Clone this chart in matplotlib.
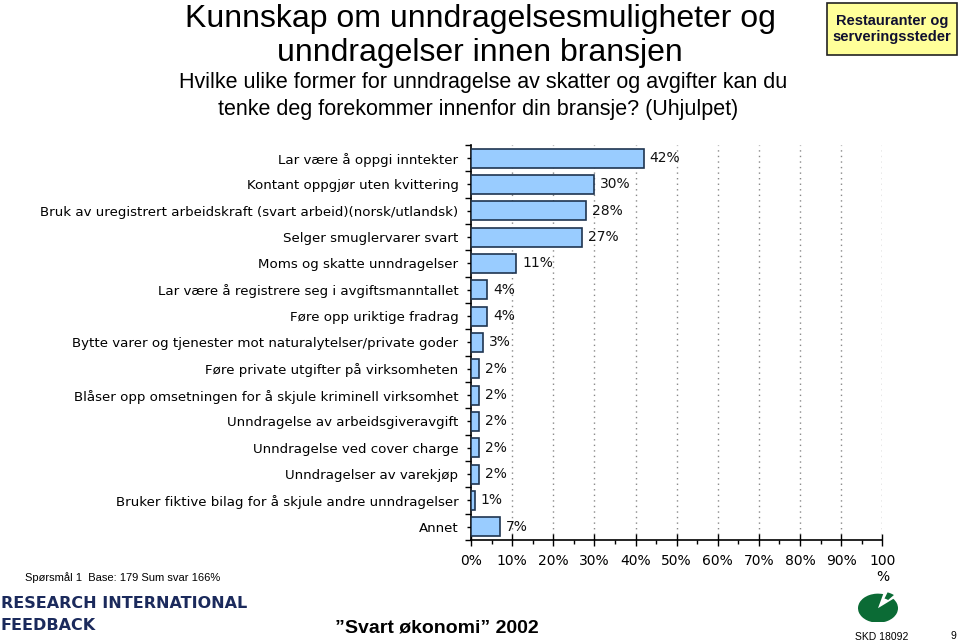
import numpy as np
import matplotlib.pyplot as plt
from matplotlib.patches import Wedge, Rectangle
from matplotlib.ticker import MultipleLocator, FixedLocator

# ========== data ==========
categories = [
    "Lar være å oppgi inntekter",
    "Kontant oppgjør uten kvittering",
    "Bruk av uregistrert arbeidskraft (svart arbeid)(norsk/utlandsk)",
    "Selger smuglervarer svart",
    "Moms og skatte unndragelser",
    "Lar være å registrere seg i avgiftsmanntallet",
    "Føre opp uriktige fradrag",
    "Bytte varer og tjenester mot naturalytelser/private goder",
    "Føre private utgifter på virksomheten",
    "Blåser opp omsetningen for å skjule kriminell virksomhet",
    "Unndragelse av arbeidsgiveravgift",
    "Unndragelse ved cover charge",
    "Unndragelser av varekjøp",
    "Bruker fiktive bilag for å skjule andre unndragelser",
    "Annet",
]
values = [42, 30, 28, 27, 11, 4, 4, 3, 2, 2, 2, 2, 2, 1, 7]
xticks = list(range(0, 101, 10))
xtick_labels = ["0%", "10%", "20%", "30%", "40%", "50%", "60%", "70%", "80%", "90%", "100\n%"]

fig = plt.figure(figsize=(9.6, 6.43), dpi=100)
ax = fig.add_axes([0.4906, 0.1602, 0.4285, 0.6143])

y = np.arange(len(categories))
ax.barh(y, values, height=0.72, color="#99CCFF", edgecolor="#1F3550", linewidth=1.2, zorder=3)
for yi, v in zip(y, values):
    ax.text(v + 1.4, yi, f"{v}%", va="center", ha="left", fontsize=10,
            family="DejaVu Sans", color="#111111", zorder=4)

ax.set_xlim(0, 100)
ax.set_ylim(len(categories) - 0.5, -0.5)
ax.set_yticks(y)
ax.set_yticklabels(categories, fontsize=9.6, family="DejaVu Sans")
ax.yaxis.set_minor_locator(FixedLocator(np.arange(-0.5, len(categories), 1)))
ax.tick_params(axis="y", which="major", length=3, width=1, pad=6)
ax.tick_params(axis="y", which="minor", length=4, width=1)

ax.set_xticks(xticks)
ax.set_xticklabels(xtick_labels, fontsize=10, family="DejaVu Sans", va="top")
ax.xaxis.set_minor_locator(MultipleLocator(5))
ax.tick_params(axis="x", which="major", direction="inout", length=8, width=1, pad=6)
ax.tick_params(axis="x", which="minor", direction="out", length=3, width=1)

for xv in xticks[1:]:
    ax.axvline(xv, color="#888888", linestyle=(0, (1, 3)), linewidth=1, zorder=1)

for s in ["top", "right"]:
    ax.spines[s].set_visible(False)
ax.spines["left"].set_linewidth(1.2)
ax.spines["bottom"].set_linewidth(1.2)

# ========== titles ==========
fig.text(0.5, 0.971, "Kunnskap om unndragelsesmuligheter og", ha="center", va="center",
         fontsize=23, family="Liberation Sans")
fig.text(0.5, 0.918, "unndragelser innen bransjen", ha="center", va="center",
         fontsize=23, family="Liberation Sans")
fig.text(0.503, 0.872, "Hvilke ulike former for unndragelse av skatter og avgifter kan du",
         ha="center", va="center", fontsize=15.5, family="Liberation Sans")
fig.text(0.498, 0.829, "tenke deg forekommer innenfor din bransje? (Uhjulpet)",
         ha="center", va="center", fontsize=15.5, family="Liberation Sans")

# box top right
fig.patches.append(Rectangle((827 / 960, 1 - 55 / 643), 130 / 960, 52 / 643,
                             transform=fig.transFigure, facecolor="#FFFF99",
                             edgecolor="#222222", linewidth=1.2))
fig.text(892 / 960, 1 - 29 / 643, "Restauranter og\nserveringssteder", ha="center", va="center",
         fontsize=10.5, fontweight="bold", family="Liberation Sans", color="#101030",
         linespacing=1.1)

# footer
fig.text(25 / 960, 1 - 578 / 643, "Spørsmål 1  Base: 179 Sum svar 166%", ha="left", va="center",
         fontsize=8, family="Liberation Sans")
fig.text(1 / 960, 1 - 604 / 643, "RESEARCH INTERNATIONAL", ha="left", va="center",
         fontsize=11.5, family="DejaVu Sans", color="#1B2A5C", fontweight="bold")
fig.text(1 / 960, 1 - 625 / 643, "FEEDBACK", ha="left", va="center",
         fontsize=11.5, family="DejaVu Sans", color="#1B2A5C", fontweight="bold")
fig.text(437 / 960, 1 - 628 / 643, "”Svart økonomi” 2002", ha="center", va="center",
         fontsize=14, fontweight="bold", family="Liberation Sans")
fig.text(882 / 960, 1 - 637 / 643, "SKD 18092", ha="center", va="center",
         fontsize=7.5, family="Liberation Sans")
fig.text(953 / 960, 1 - 636 / 643, "9", ha="center", va="center",
         fontsize=7.5, family="Liberation Sans")

# green logo
lax = fig.add_axes([856 / 960, 1 - 622 / 643, 44 / 960, 32 / 643])
lax.set_xlim(-1.1, 1.1)
lax.set_ylim(-1.1, 1.1)
lax.axis("off")
lax.add_patch(Wedge((0, -0.15), 1.0, 75, 400, facecolor="#0B6B35", edgecolor="none"))
lax.add_patch(Wedge((0.12, -0.05), 1.05, 50, 70, width=0.45, facecolor="#0B6B35", edgecolor="none"))

fig.savefig("out.png", dpi=100)
